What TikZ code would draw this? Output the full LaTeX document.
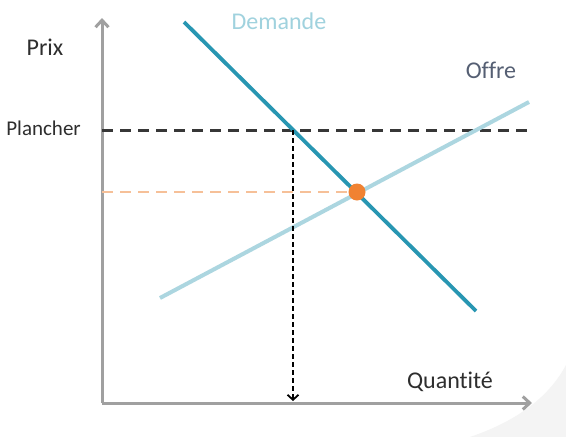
\documentclass[tikz,border=0pt]{standalone}
\usepackage{fontspec}
\setmainfont[Ligatures={NoCommon}]{Carlito}
\usetikzlibrary{arrows.meta}
\definecolor{demcol}{RGB}{40,150,178}
\definecolor{offcol}{RGB}{172,214,224}
\definecolor{demtxt}{RGB}{160,210,222}
\definecolor{offtxt}{RGB}{85,95,115}
\definecolor{axcol}{RGB}{160,160,160}
\definecolor{plcol}{RGB}{55,55,55}
\definecolor{orcol}{RGB}{240,130,50}
\definecolor{orlight}{RGB}{246,192,152}
\tikzset{
  axis/.style={draw=axcol, line width=3pt, -{Straight Barb[length=7pt,width=13pt,line width=3pt]}},
  lbl/.style={font=\fontsize{24}{28}\selectfont, inner sep=0pt, text=black!82},
  plancherline/.style={draw=plcol, line width=3pt, dash pattern=on 11pt off 7pt},
  orangeline/.style={draw=orlight, line width=2.6pt, dash pattern=on 11pt off 7pt},
  dotarrow/.style={draw=black, line width=1.8pt, dash pattern=on 5pt off 3pt, -{Straight Barb[length=5pt,width=11pt,line width=1.8pt]}},
}
\begin{document}
\begin{tikzpicture}[x=1pt,y=-1pt]
\useasboundingbox (0,0) rectangle (566,437);
\fill[white] (0,0) rectangle (566,437);
% faint swoosh bottom right
\fill[gray!9] (470,437) .. controls (520,420) and (550,395) .. (566,365) -- (566,437) -- cycle;
% axes
\coordinate (O) at (102,403);
\coordinate (Ytop) at (102,18);
\coordinate (Xend) at (532,403);
\draw[axis] (O) -- (Ytop);
\draw[axis] (O) -- (Xend);
% dashed lines
\coordinate (PL0) at (102,130);
\coordinate (PL1) at (533,130);
\coordinate (PX) at (293,130);
\coordinate (PXb) at (293,401);
\coordinate (OR0) at (102,192);
\coordinate (EQ) at (357,192);
\draw[orangeline] (OR0) -- (EQ);
\draw[plancherline] (PL0) -- (PL1);
% supply
\coordinate (S0) at (160,298);
\coordinate (S1) at (529,102);
\draw[offcol, line width=4pt] (S0) -- (S1);
% demand
\coordinate (D0) at (184,22);
\coordinate (D1) at (476,311);
\draw[demcol, line width=3.8pt] (D0) -- (D1);
% dotted arrow
\draw[dotarrow] (PX) -- (PXb);
% equilibrium dot
\node[circle, fill=orcol, minimum size=17pt, inner sep=0pt] (eqdot) at (EQ) {};
% labels
\node[lbl] (prix) at (45,47) {Prix};
\node[lbl, anchor=east, font=\fontsize{21}{24}\selectfont] (plancher) at (81,128) {Plancher};
\node[lbl, text=demtxt] (demande) at (279,21) {Demande};
\node[lbl, text=offtxt] (offre) at (491,70) {Offre};
\node[lbl] (quantite) at (450,382) {Quantité};
\end{tikzpicture}
\end{document}
